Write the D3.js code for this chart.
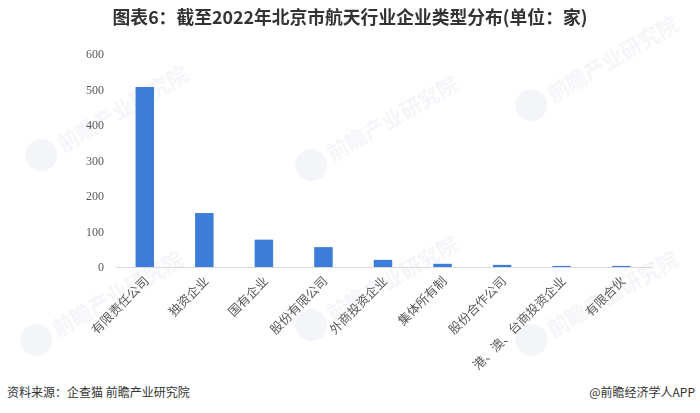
<!DOCTYPE html>
<html><head><meta charset="utf-8">
<script src="https://cdn.jsdelivr.net/npm/d3@7/dist/d3.min.js"></script>
<style>body{margin:0;background:#fff}svg{display:block}</style>
</head><body><div id="chart"></div>
<script>
const categories = ["有限责任公司","独资企业","国有企业","股份有限公司","外商投资企业","集体所有制","股份合作公司","港、澳、台商投资企业","有限合伙"];
const values = [507, 152, 77, 56, 20, 9, 6, 3, 3];
const yTicks = [0, 100, 200, 300, 400, 500, 600];
const title = "图表6：截至2022年北京市航天行业企业类型分布(单位：家)";
const source = "资料来源：企查猫 前瞻产业研究院";
const credit = "@前瞻经济学人APP";

const W = 700, H = 413;
const svg = d3.select("#chart").append("svg").attr("width", W).attr("height", H);

// watermarks
const wm = [[50,150],[320,160],[540,100],[45,335],[320,320],[540,335]];
const wg = svg.append("g").attr("opacity", 0.05);
wm.forEach(([x,y]) => {
  const g = wg.append("g").attr("transform", `translate(${x},${y}) rotate(-30)`);
  g.append("circle").attr("cx", -10).attr("cy", 0).attr("r", 16).attr("fill", "#1a3a6a");
  g.append("text").attr("x", 10).attr("y", 8).attr("font-family", "Noto Sans CJK SC").attr("font-weight", "bold")
    .attr("font-size", 21).attr("fill", "#1a3a6a").text("前瞻产业研究院");
});

const x = d3.scaleBand().domain(categories).range([115, 651]).paddingInner(0.69).paddingOuter(0.345);
const y = d3.scaleLinear().domain([0, 600]).range([267, 54]);

svg.append("text").attr("x", 350).attr("y", 24).attr("text-anchor", "middle")
  .attr("font-family", "Noto Sans CJK SC").attr("font-weight", "bold").attr("font-size", 17.8)
  .attr("fill", "#333").text(title);

// y axis
const ya = svg.append("g").attr("transform", "translate(108,0)")
  .call(d3.axisLeft(y).tickValues(yTicks).tickSize(0).tickPadding(4));
ya.select(".domain").remove();
ya.selectAll("text").attr("font-family", "Liberation Serif").attr("font-size", 12).attr("fill", "#595959");

svg.selectAll("rect.bar").data(values).enter().append("rect").attr("class","bar")
  .attr("x", (d,i) => x(categories[i])).attr("width", x.bandwidth())
  .attr("y", d => y(d)).attr("height", d => y(0) - y(d)).attr("fill", "#3b7dd8");

// x axis
const xa = svg.append("g").attr("transform", `translate(0,${y(0)})`)
  .call(d3.axisBottom(x).tickSize(0).tickPadding(0));
xa.select(".domain").attr("stroke", "#d9d9d9").attr("stroke-width", 1.2);
xa.selectAll("text").attr("font-family", "Noto Sans CJK SC").attr("font-size", 12.5).attr("fill", "#595959")
  .attr("text-anchor", "end").attr("dy", 0)
  .attr("transform", "translate(5,15) rotate(-45)");

svg.append("text").attr("x", 7).attr("y", 397).attr("font-family", "Noto Sans CJK SC")
  .attr("font-size", 12).attr("fill", "#333").text(source);
svg.append("text").attr("x", 695).attr("y", 397).attr("text-anchor", "end").attr("font-family", "Noto Sans CJK SC")
  .attr("font-size", 12).attr("fill", "#333").text(credit);
</script></body></html>
